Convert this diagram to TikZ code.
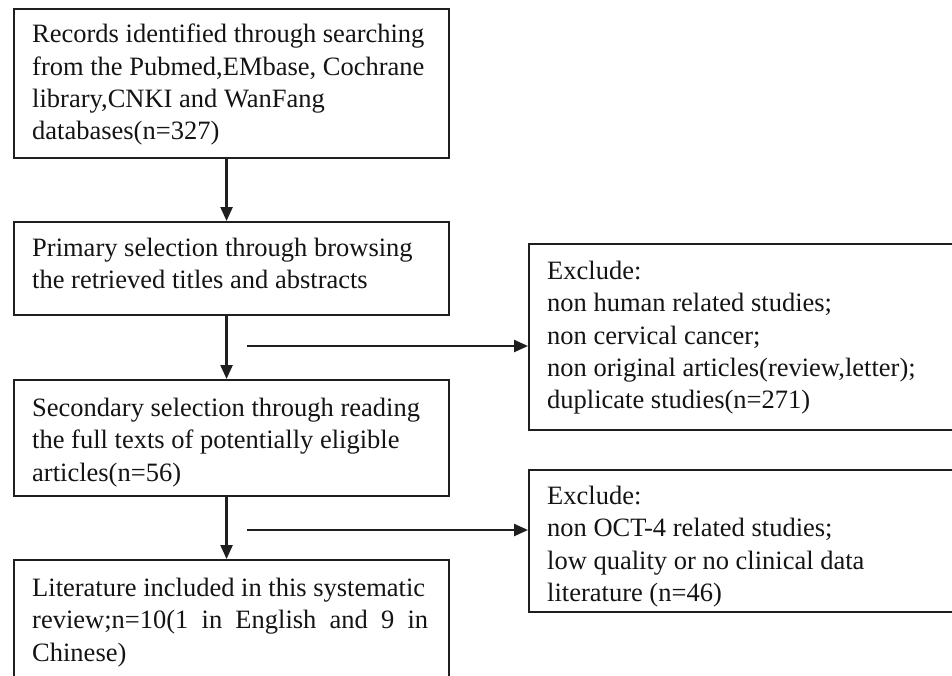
\documentclass[tikz,border=0pt]{standalone}
\usepackage{fontspec}
\setmainfont{Liberation Serif}
\usetikzlibrary{arrows.meta}
\begin{document}
\begin{tikzpicture}[x=1pt,y=-1pt,
  box/.style={draw=black!88, line width=2.4pt, rectangle, inner sep=0pt, anchor=north west},
  txt/.style={anchor=north west, inner sep=0pt, align=left, font=\fontsize{26.5}{32.3}\selectfont, text=black!92},
  arr/.style={draw=black!88, line width=2.4pt, -{Triangle[length=14pt,width=12pt]}}]
\useasboundingbox (0,0) rectangle (952,675);
\fill[white] (0,0) rectangle (952,675);
% left column boxes
\node[box, minimum width=435.3pt, minimum height=149pt] (b1) at (12.7,8) {};
\node[box, minimum width=435.3pt, minimum height=93pt] (b2) at (12.7,221) {};
\node[box, minimum width=435.3pt, minimum height=116pt] (b3) at (12.7,379) {};
\node[box, minimum width=435.3pt, minimum height=150pt] (b4) at (12.7,559) {};
% right column boxes
\node[box, minimum width=440pt, minimum height=186pt] (b5) at (528,243) {};
\node[box, minimum width=440pt, minimum height=142pt] (b6) at (528,469) {};
% texts
\node[txt] (t1) at ([shift={(19.3,16)}]b1.north west) {Records identified through searching\\from the Pubmed,EMbase, Cochrane\\library,CNKI and WanFang\\databases(n=327)};
\node[txt] (t2) at ([shift={(19.3,17)}]b2.north west) {Primary selection through browsing\\the retrieved titles and abstracts};
\node[txt] (t3) at ([shift={(19.3,19)}]b3.north west) {Secondary selection through reading\\the full texts of potentially eligible\\articles(n=56)};
\node[txt] (t4) at ([shift={(19.3,19)}]b4.north west) {Literature included in this systematic\\\makebox[396pt][s]{review;n=10(1 in English and 9 in}\\Chinese)};
\node[txt] (t5) at ([shift={(19,18)}]b5.north west) {Exclude:\\non human related studies;\\non cervical cancer;\\non original articles(review,letter);\\duplicate studies(n=271)};
\node[txt] (t6) at ([shift={(19,17)}]b6.north west) {Exclude:\\non OCT-4 related studies;\\low quality or no clinical data\\literature (n=46)};
% connectors
\coordinate (c1) at (247,346);
\coordinate (c2) at (247,530);
\draw[arr] ([xshift=-5pt]b1.south) -- ([xshift=-5pt]b2.north);
\draw[arr] ([xshift=-5pt]b2.south) -- ([xshift=-5pt]b3.north);
\draw[arr] ([xshift=-5pt]b3.south) -- ([xshift=-5pt]b4.north);
\draw[arr] (c1) -- (c1 -| b5.west);
\draw[arr] (c2) -- (c2 -| b6.west);
\end{tikzpicture}
\end{document}
